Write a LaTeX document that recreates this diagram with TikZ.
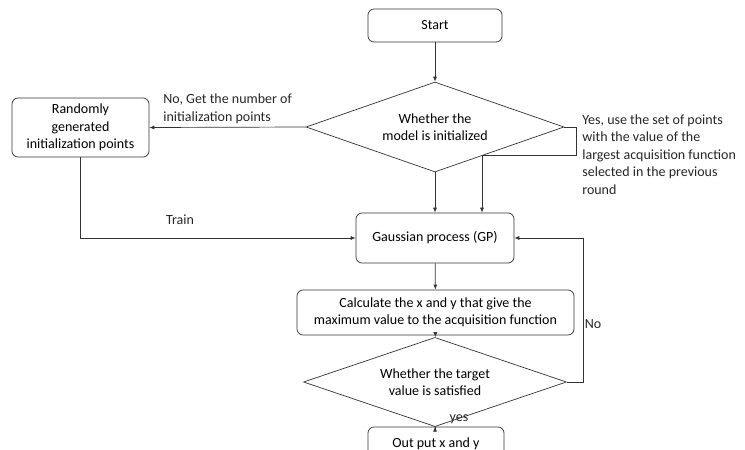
\documentclass[tikz,border=0pt]{standalone}
\usepackage{fontspec}
\setmainfont{Carlito}
\usetikzlibrary{shapes.geometric,arrows.meta}

\tikzset{
  boite/.style={draw=black!80, rounded corners=6pt, align=center, inner sep=2pt},
  losange/.style={draw=black!80, diamond, align=center, inner sep=-12pt},
  fleche/.style={draw=black!80, -{Latex[length=5pt,width=4pt]}},
  texte/.style={align=left, inner sep=0pt, text=black!85}
}

\begin{document}
\begin{tikzpicture}[x=1pt, y=-1pt, line width=0.7pt,
    font=\fontsize{14}{17.5}\selectfont]
        % Cadre de la figure
        \useasboundingbox (0,0) rectangle (745,450);
        \clip (0,0) rectangle (745,450);
        % Noeuds principaux
        \node[boite, minimum width=134pt, minimum height=33pt] (start) at (435,25.5) {Start};
        \node[losange, minimum width=258pt, minimum height=90pt] (init) at (435,127) {Whether the\\model is initialized};
        \node[boite, minimum width=137pt, minimum height=59pt] (rand) at (80.5,127.5) {Randomly\\generated\\initialization points};
        \node[boite, minimum width=158pt, minimum height=50pt] (gp) at (435,238) {Gaussian process (GP)};
        \node[boite, minimum width=277pt, minimum height=45pt] (calc) at (435.5,312.5) {Calculate the x and y that give the\\maximum value to the acquisition function};
        \node[losange, minimum width=263pt, minimum height=59pt] (target) at (435,382) {Whether the target\\value is satisfied};
        \node[boite, minimum width=136pt, minimum height=34pt] (out) at (436,444) {Out put x and y};
        % Liaisons verticales
        \draw[fleche] (start) -- (init);
        \draw[fleche] (init) -- (gp);
        \draw[fleche] (gp) -- (calc);
        \draw[fleche] (calc) -- (target);
        \draw[fleche] (target.south) -- (target.south |- out.north);
        % Branche "No" vers l'initialisation
        \draw[fleche] (init.west) -- (rand.east);
        \node[texte, anchor=south west] (nolab) at (163,124) {No, Get the number of\\initialization points};
        % Branche "Yes"
        \coordinate (yesdrop) at (482,155);
        \draw[fleche] (init.east) -- ++(12,0) |- (yesdrop) -- (yesdrop |- gp.north);
        \node[texte, anchor=north west] (yeslab) at (582,114) {Yes, use the set of points\\with the value of the\\largest acquisition function\\selected in the previous\\round};
        % Entrainement et boucle
        \draw[fleche] (rand.south) |- (gp.west);
        \node[texte] (trainlab) at (180,220) {Train};
        \draw[fleche] (target.east) -- ++(16,0) |- (gp.east);
        \node[texte] (nolab2) at (593,324) {No};
        \node[texte] (yeslab2) at (459,419) {yes};
    \end{tikzpicture}
\end{document}
